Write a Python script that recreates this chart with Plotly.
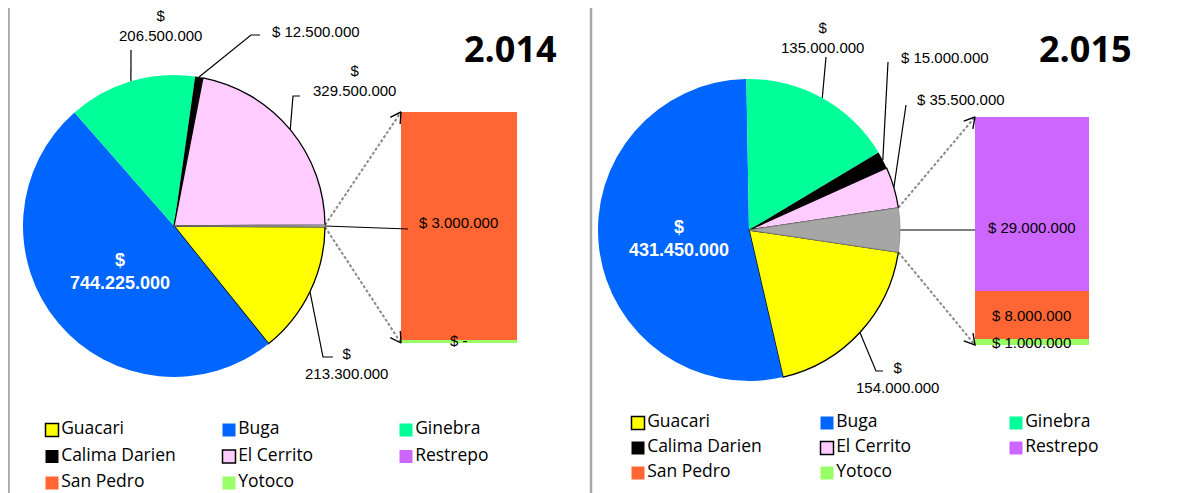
import math
import plotly.graph_objects as go

W, H = 1177, 493
OFF = 8  # margen del body de la pagina

# leyenda: orden y colores
municipios = ["Guacari", "Buga", "Ginebra", "Calima Darien", "El Cerrito", "Restrepo", "San Pedro", "Yotoco"]
colores = ["#FFFF00", "#0066FF", "#00FF99", "#000000", "#FFCCFF", "#CC66FF", "#FF6633", "#99FF66"]
color_de = dict(zip(municipios, colores))

# porciones del circulo (sentido horario desde las 3)
torta_cats = ["Guacari", "Buga", "Ginebra", "Calima Darien", "El Cerrito"]
torta_2014 = [213300000, 744225000, 206500000, 12500000, 329500000]
torta_2015 = [154000000, 431450000, 135000000, 15000000, 35500000]

# barra secundaria (de abajo hacia arriba)
barra_cats_2014 = ["Yotoco", "San Pedro"]
barra_2014 = [0, 3000000]
barra_cats_2015 = ["Yotoco", "San Pedro", "Restrepo"]
barra_2015 = [1000000, 8000000, 29000000]

FUENTE = "Liberation Sans, Arial, sans-serif"
FUENTE_LEY = "Open Sans, sans-serif"


def pesos(v, salto=False):
    if v == 0:
        return "$ -"
    s = f"{v:,.0f}".replace(",", ".")
    return ("$<br>" if salto else "$ ") + s


def borde(cx, cy, r, ang):
    a = math.radians(ang)
    return cx + r * math.sin(a), cy - r * math.cos(a)


def fx(px):
    return (px - OFF) / W


def fy(py):
    return 1 - (py - OFF) / H


# posiciones de texto y quiebres de las lineas guia (pixeles de la pagina)
paneles = [
    dict(titulo="2.014", torta=torta_2014, barra_cats=barra_cats_2014, barra=barra_2014,
         cx=174, cy=226, r=151, barra_px=(401, 517, 112, 343), pad=3, titulo_pos=(510, 48),
         etiquetas={
             "Guacari": ((346, 363), [(323, 357), (333, 357)], True),
             "Ginebra": ((160, 25), [(131, 50)], True),
             "Calima Darien": ((316, 31), [(251, 35), (260, 35)], False),
             "El Cerrito": ((354, 80), [(293, 96), (300, 96)], True),
         },
         otros=((458, 222), [(408, 229)]),
         leyenda=(52, 430, 177, 26.5)),
    dict(titulo="2.015", torta=torta_2015, barra_cats=barra_cats_2015, barra=barra_2015,
         cx=749, cy=230, r=151, barra_px=(975, 1089, 117, 345), pad=0, titulo_pos=(1085, 48),
         etiquetas={
             "Guacari": ((897, 377), [(876, 371), (883, 371)], True),
             "Ginebra": ((822, 37), [(826, 57)], True),
             "Calima Darien": ((945, 57), [(888, 62)], False),
             "El Cerrito": ((961, 99), [(906, 105)], False),
         },
         otros=((1032, 227), [(975, 230)]),
         leyenda=(638, 423, 189, 25)),
]

fig = go.Figure()
anotaciones = []


def linea(pts, **estilo):
    fig.add_trace(go.Scatter(x=[q[0] if q else None for q in pts], y=[q[1] if q else None for q in pts],
                             mode="lines", line=estilo, xaxis="x3", yaxis="y3",
                             showlegend=False, hoverinfo="skip"))


for k, p in enumerate(paneles, start=1):
    cx, cy, r = p["cx"], p["cy"], p["r"]
    otros = sum(p["barra"])
    valores = p["torta"] + [otros]
    total = sum(valores)
    medio = otros / total * 180
    rot = 90 + medio

    bordes = ["#000000" if c in ("Guacari", "El Cerrito") else "rgba(0,0,0,0)" for c in torta_cats] + ["#8C8C8C"]
    anchos = [1.3 if c in ("Guacari", "El Cerrito") else 0 for c in torta_cats] + [0.8]
    fig.add_trace(go.Pie(
        labels=torta_cats + ["Otros"], values=valores, sort=False, direction="clockwise",
        rotation=rot, textinfo="none", hoverinfo="label+value", showlegend=False,
        marker=dict(colors=[color_de[c] for c in torta_cats] + ["#A6A6A6"],
                    line=dict(color=bordes, width=anchos)),
        domain=dict(x=[fx(cx - r), fx(cx + r)], y=[fy(cy + r), fy(cy - r)]),
    ))

    # etiquetas de las porciones
    ang = rot
    for cat, v in zip(torta_cats, p["torta"]):
        span = v / total * 360
        mid = ang + span / 2
        ang += span
        if cat == "Buga":
            tx, ty = borde(cx, cy, 0.47 * r, mid)
            anotaciones.append(dict(x=tx, y=ty, text="<b>" + pesos(v, True) + "</b>", showarrow=False,
                                    font=dict(family=FUENTE, size=18, color="white")))
            continue
        (tx, ty), quiebres, salto = p["etiquetas"][cat]
        linea([borde(cx, cy, r, mid)] + quiebres, color="black", width=1.2)
        anotaciones.append(dict(x=tx, y=ty, text=pesos(v, salto), showarrow=False,
                                font=dict(family=FUENTE, size=15, color="black")))

    # etiqueta de la barra superior con linea guia desde "otros"
    (tx, ty), quiebres = p["otros"]
    linea([borde(cx, cy, r, 90)] + quiebres, color="black", width=1.2)
    anotaciones.append(dict(x=tx, y=ty, text=pesos(p["barra"][-1]), showarrow=False,
                            font=dict(family=FUENTE, size=15, color="black")))

    # barra apilada
    bx0, bx1, byt, byb = p["barra_px"]
    px_por = (byb - p["pad"] - byt) / otros
    bajo = -p["pad"] / px_por
    sfx = "" if k == 1 else str(k)
    base = 0
    for j, (cat, v) in enumerate(zip(p["barra_cats"], p["barra"])):
        tope = j == len(p["barra"]) - 1
        fig.add_trace(go.Bar(
            x=[0], y=[v], width=1, name=cat, xaxis="x" + sfx, yaxis="y" + sfx,
            marker=dict(color=color_de[cat], line=dict(color=color_de[cat], width=6 if v == 0 else 0)),
            showlegend=False, hoverinfo="name+y",
        ))
        if not tope:
            anotaciones.append(dict(x=0, y=base + v / 2, xref="x" + sfx, yref="y" + sfx,
                                    text=pesos(v), showarrow=False,
                                    font=dict(family=FUENTE, size=15, color="black")))
        base += v
    fig.update_layout({
        "xaxis" + sfx: dict(domain=[fx(bx0), fx(bx1)], range=[-0.5, 0.5], visible=False,
                            anchor="y" + sfx, fixedrange=True),
        "yaxis" + sfx: dict(domain=[fy(byb), fy(byt)], range=[bajo, otros], visible=False,
                            anchor="x" + sfx, fixedrange=True),
    })

    # flechas punteadas hacia la barra
    for a_ang, (ex, ey) in ((90 - medio, (bx0, byt)), (90 + medio, (bx0, byb))):
        sx, sy = borde(cx, cy, r, a_ang)
        linea([(sx, sy), (ex, ey)], color="#8A8A8A", width=2, dash="3px,2px")
        d = math.atan2(ey - sy, ex - sx)
        punta = []
        for g in (math.radians(150), math.radians(-150)):
            punta += [(ex + 12 * math.cos(d + g), ey + 12 * math.sin(d + g)), (ex, ey)]
        linea(punta, color="black", width=1.4)

    # leyenda
    lx, ly, ddx, ddy = p["leyenda"]
    fig.add_trace(go.Scatter(
        x=[lx + (i % 3) * ddx for i in range(len(municipios))],
        y=[ly + (i // 3) * ddy for i in range(len(municipios))],
        mode="markers+text", text=municipios, textposition="middle right",
        marker=dict(symbol="square", size=13, color=colores,
                    line=dict(color="black",
                              width=[1.5 if m in ("Guacari", "El Cerrito") else 0 for m in municipios])),
        textfont=dict(family=FUENTE_LEY, size=17.5, color="black"),
        xaxis="x3", yaxis="y3", showlegend=False, hoverinfo="skip", cliponaxis=False,
    ))

    tx, ty = p["titulo_pos"]
    anotaciones.append(dict(x=tx, y=ty, text="<b>" + p["titulo"] + "</b>", showarrow=False,
                            font=dict(family="Open Sans, sans-serif", size=36, color="black")))

for a in anotaciones:
    a.setdefault("xref", "x3")
    a.setdefault("yref", "y3")

marco = dict(type="line", xref="x3", yref="y3", line=dict(color="#A6A6A6", width=2.5))
fig.update_layout(
    width=W, height=H, margin=dict(l=0, r=0, t=0, b=0),
    paper_bgcolor="white", plot_bgcolor="rgba(0,0,0,0)",
    barmode="stack", bargap=0, showlegend=False,
    xaxis3=dict(domain=[0, 1], range=[OFF, W + OFF], visible=False, anchor="y3", fixedrange=True),
    yaxis3=dict(domain=[0, 1], range=[H + OFF, OFF], visible=False, anchor="x3", fixedrange=True),
    annotations=anotaciones,
    shapes=[
        dict(marco, x0=8, y0=5, x1=W + OFF, y1=5),
        dict(marco, x0=8.5, y0=5, x1=8.5, y1=H + OFF),
        dict(marco, x0=591, y0=5, x1=591, y1=H + OFF),
    ],
)

fig.write_html("out.html")
